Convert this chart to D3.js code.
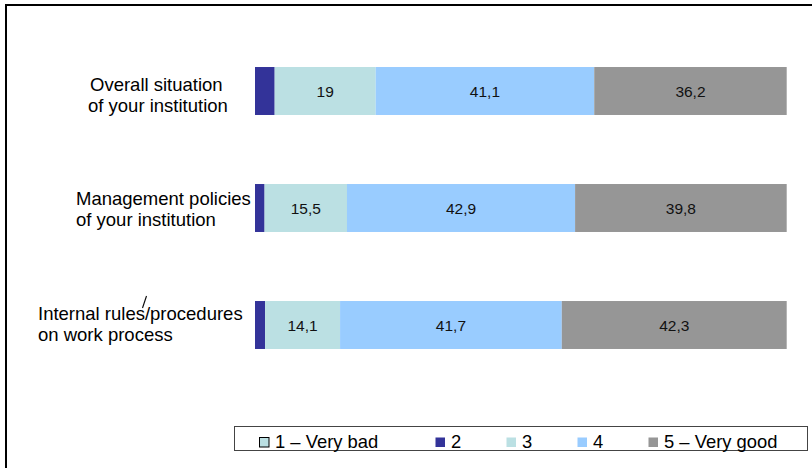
<!DOCTYPE html>
<html>
<head>
<meta charset="utf-8">
<script src="https://cdn.jsdelivr.net/npm/d3@7/dist/d3.min.js"></script>
<style>
  html, body { margin: 0; padding: 0; background: #fff; }
  svg { display: block; font-family: "Liberation Sans", Arial, sans-serif; }
</style>
</head>
<body>
<svg id="chart" width="812" height="468"></svg>
<script>
// Survey items (top to bottom) and their line-broken labels
const categories = ["Overall situation", "Management policies", "Internal rules/procedures"];
const categoryLines = [
  ["Overall situation", "of your institution"],
  ["Management policies", "of your institution"],
  ["Internal rules/procedures", "on work process"]
];

// Answer scale
const seriesNames = ["1 \u2013 Very bad", "2", "3", "4", "5 \u2013 Very good"];
const seriesColors = ["#BBE0E3", "#333399", "#BBE0E3", "#99CCFF", "#969696"];

// Percentage shares per answer, one array per item
const overallValues    = [0, 3.7, 19, 41.1, 36.2];
const managementValues = [0, 1.8, 15.5, 42.9, 39.8];
const rulesValues      = [0, 1.9, 14.1, 41.7, 42.3];
const valuesByCategory = [overallValues, managementValues, rulesValues];

// Only segments wide enough carry a value label
const labelledSeries = [2, 3, 4];

const fmt = v => String(v).replace(".", ",");

const svg = d3.select("#chart");

// Outer frame
svg.append("rect")
  .attr("x", 6).attr("y", 5)
  .attr("width", 830).attr("height", 500)
  .attr("fill", "none").attr("stroke", "#000").attr("stroke-width", 2);

const x = d3.scaleLinear().domain([0, 100]).range([255, 786.7]);
const y = d3.scaleBand().domain(categories).range([32.5, 383.5])
  .paddingInner(0.59).paddingOuter(0.295);

// Stack the rows
const rows = categories.map((c, i) => {
  const o = { category: c };
  seriesNames.forEach((s, j) => { o[s] = valuesByCategory[i][j]; });
  return o;
});
const stack = d3.stack().keys(seriesNames)(rows);

const layers = svg.append("g").selectAll("g")
  .data(stack).join("g")
  .attr("fill", (d, i) => seriesColors[i]);

layers.selectAll("rect")
  .data(d => d.map(p => ({ p, key: d.key })))
  .join("rect")
  .attr("x", d => x(d.p[0]))
  .attr("y", d => y(d.p.data.category))
  .attr("width", d => Math.max(0, x(d.p[1]) - x(d.p[0])))
  .attr("height", y.bandwidth());

// Value labels inside segments
stack.forEach((layer, si) => {
  if (!labelledSeries.includes(si)) return;
  svg.append("g").selectAll("text")
    .data(layer).join("text")
    .attr("x", p => (x(p[0]) + x(p[1])) / 2)
    .attr("y", p => y(p.data.category) + y.bandwidth() / 2 + 6)
    .attr("text-anchor", "middle")
    .attr("font-size", 15.5)
    .attr("fill", "#111")
    .text(p => fmt(+(p[1] - p[0]).toFixed(1)));
});

// Category labels (two lines each, left side)
const labelLayout = [
  { xs: [90, 88], dy: [-0.5, 20.5] },
  { xs: [76, 76], dy: [-3, 18] },
  { xs: [38, 38], dy: [-5, 16] }
];
categories.forEach((c, i) => {
  const cy = y(c) + y.bandwidth() / 2;
  const t = svg.append("text").attr("font-size", 18.5).attr("fill", "#000");
  categoryLines[i].forEach((line, k) => {
    t.append("tspan")
      .attr("x", labelLayout[i].xs[k])
      .attr("y", cy + labelLayout[i].dy[k])
      .text(line);
  });
});
// stray raised stroke over "rules"
svg.append("path")
  .attr("d", "M142.5,308 L146.5,296")
  .attr("stroke", "#000").attr("stroke-width", 1.1).attr("fill", "none");

// Legend
const legend = svg.append("g");
legend.append("rect")
  .attr("x", 234.5).attr("y", 426.5)
  .attr("width", 573).attr("height", 24)
  .attr("fill", "#fff").attr("stroke", "#444").attr("stroke-width", 1);

const legendX = [259, 435, 506, 577, 648];
const legendItems = legend.selectAll("g.item")
  .data(seriesNames).join("g").attr("class", "item")
  .attr("transform", (d, i) => `translate(${legendX[i]},0)`);

legendItems.append("rect")
  .attr("x", 0.5).attr("y", 437.5)
  .attr("width", 9.5).attr("height", 9.5)
  .attr("fill", (d, i) => seriesColors[i])
  .attr("stroke", (d, i) => i === 0 ? "#000" : "none")
  .attr("stroke-width", 1);

legendItems.append("text")
  .attr("x", 16).attr("y", 448)
  .attr("font-size", 18.4).attr("fill", "#000")
  .text(d => d);
</script>
</body>
</html>
